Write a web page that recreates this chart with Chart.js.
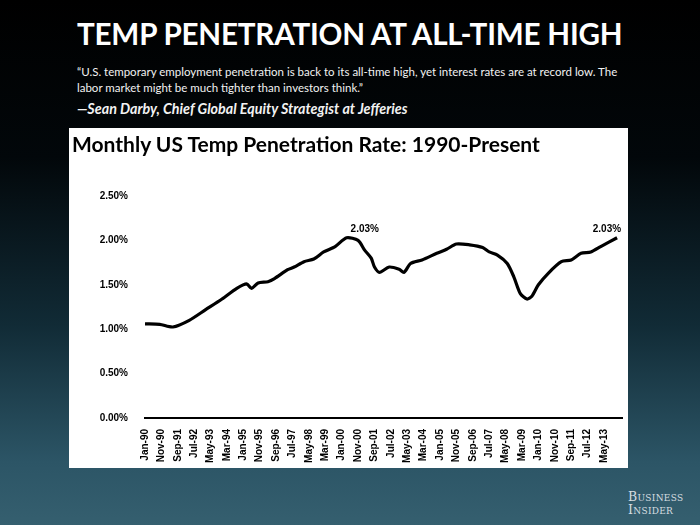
<!DOCTYPE html>
<html>
<head>
<meta charset="utf-8">
<script src="https://cdn.jsdelivr.net/npm/chart.js@4"></script>
<style>
  html, body { margin: 0; padding: 0; }
  body {
    width: 700px; height: 525px; overflow: hidden; position: relative;
    background: linear-gradient(to bottom, #000 0%, #02070a 30%, #112b36 62%, #2c5566 88%, #355f6f 100%);
    font-family: Lato, "Open Sans", sans-serif;
  }
  .headline {
    position: absolute; left: 77px; top: 16px;
    color: #fff; font-weight: 700; font-size: 29.6px; letter-spacing: -0.2px;
  }
  .quote {
    position: absolute; left: 77px; top: 64px; width: 560px;
    color: #f2f2f2; font-size: 11.5px; line-height: 16px;
  }
  .byline {
    position: absolute; left: 77px; top: 100px;
    color: #f2f2f2; font-size: 14.3px; font-weight: 700; font-style: italic;
  }
  .panel {
    position: absolute; left: 69px; top: 128px; width: 559px; height: 340px;
    background: #fff;
  }
  .panel h2 {
    position: absolute; left: 3px; top: 3px; margin: 0;
    font-size: 21px; font-weight: 700; color: #000; white-space: nowrap;
  }
  #chart { position: absolute; left: 0; top: 0; }
  .logo {
    position: absolute; left: 628px; top: 491px;
    color: #d6dde0; font-family: "DejaVu Serif", "Liberation Serif", serif;
    font-variant: small-caps; font-size: 12.5px; line-height: 12.5px; letter-spacing: 0.3px;
  }
</style>
</head>
<body>
<div class="headline">TEMP PENETRATION AT ALL-TIME HIGH</div>
<div class="quote">“U.S. temporary employment penetration is back to its all-time high, yet interest rates are at record low. The labor market might be much tighter than investors think.”</div>
<div class="byline">—Sean Darby, Chief Global Equity Strategist at Jefferies</div>
<div class="panel">
  <canvas id="chart" width="559" height="340"></canvas>
  <h2>Monthly US Temp Penetration Rate: 1990-Present</h2>
</div>
<div class="logo">Business<br>Insider</div>

<script>
// Months since Jan-90 and the temp penetration rate (%).
const MONTH_IDX = [0, 9, 17, 27, 37, 47, 56, 62, 65, 69, 75, 79, 87, 91, 97, 103, 109, 116, 123,
  130, 134, 138, 140, 143, 149, 155, 158, 162, 169, 178, 184, 190, 198, 206, 210, 215, 221,
  225, 229, 233, 236, 240, 246, 254, 260, 266, 272, 278, 288];
const RATE = [1.06, 1.055, 1.025, 1.10, 1.22, 1.34, 1.46, 1.51, 1.46, 1.52, 1.535, 1.57, 1.67, 1.70,
  1.76, 1.79, 1.87, 1.93, 2.03, 2.00, 1.89, 1.80, 1.70, 1.64, 1.70, 1.675, 1.64, 1.74, 1.78,
  1.855, 1.90, 1.96, 1.95, 1.92, 1.87, 1.835, 1.74, 1.59, 1.40, 1.34, 1.37, 1.50, 1.63, 1.76,
  1.78, 1.855, 1.87, 1.93, 2.03];
// Every 10th month gets a label
const TICK_LABELS = ["Jan-90", "Nov-90", "Sep-91", "Jul-92", "May-93", "Mar-94", "Jan-95", "Nov-95",
  "Sep-96", "Jul-97", "May-98", "Mar-99", "Jan-00", "Nov-00", "Sep-01", "Jul-02", "May-03",
  "Mar-04", "Jan-05", "Nov-05", "Sep-06", "Jul-07", "May-08", "Mar-09", "Jan-10", "Nov-10",
  "Sep-11", "Jul-12", "May-13"];
const Y_TICKS = [0, 0.5, 1, 1.5, 2, 2.5];
// Callouts: index into the series, and which side of the point the text goes
const CALLOUTS = [{ i: 18, align: "left" }, { i: RATE.length - 1, align: "right" }];

const points = MONTH_IDX.map((m, i) => ({ x: m, y: RATE[i] }));

// Small plugin to write the "2.03%" callouts next to the two highs
const calloutPlugin = {
  id: "callouts",
  afterDatasetsDraw(chart) {
    const { ctx, scales: { x, y } } = chart;
    ctx.save();
    ctx.font = "bold 10px 'Liberation Sans Narrow', 'Liberation Sans', sans-serif";
    ctx.fillStyle = "#000";
    ctx.textBaseline = "middle";
    CALLOUTS.forEach(c => {
      const px = x.getPixelForValue(MONTH_IDX[c.i]);
      const py = y.getPixelForValue(RATE[c.i]);
      ctx.textAlign = c.align;
      ctx.fillText(RATE[c.i].toFixed(2) + "%", px + 4, py - 8);
    });
    ctx.restore();
  }
};

const tickFont = { family: "'Liberation Sans Narrow', 'Liberation Sans', sans-serif", size: 10, weight: "bold" };

new Chart(document.getElementById("chart"), {
  type: "line",
  data: {
    datasets: [{
      data: points,
      borderColor: "#000",
      borderWidth: 3.2,
      pointRadius: 0,
      tension: 0.25,
      fill: false,
    }],
  },
  options: {
    responsive: false,
    animation: false,
    layout: { padding: { left: 0, right: 6, top: 68, bottom: 0 } },
    plugins: { legend: { display: false }, tooltip: { enabled: false } },
    scales: {
      x: {
        type: "linear",
        min: 0,
        max: 291,
        afterFit(scale) { scale.height = 50; },
        afterBuildTicks(scale) {
          scale.ticks = TICK_LABELS.map((_, k) => ({ value: k * 10 }));
        },
        ticks: {
          autoSkip: false,
          minRotation: 90,
          maxRotation: 90,
          padding: 3,
          color: "#000",
          font: tickFont,
          callback: v => TICK_LABELS[v / 10] || "",
        },
        grid: { display: false },
        border: { display: true, color: "#000", width: 2 },
      },
      y: {
        min: 0,
        max: 2.5,
        afterFit(scale) { scale.width = 76; },
        afterBuildTicks(scale) {
          scale.ticks = Y_TICKS.map(v => ({ value: v }));
        },
        ticks: {
          padding: 9,
          color: "#000",
          font: tickFont,
          callback: v => v.toFixed(2) + "%",
        },
        grid: { display: false },
        border: { display: false },
      },
    },
  },
  plugins: [calloutPlugin],
});
</script>
</body>
</html>
